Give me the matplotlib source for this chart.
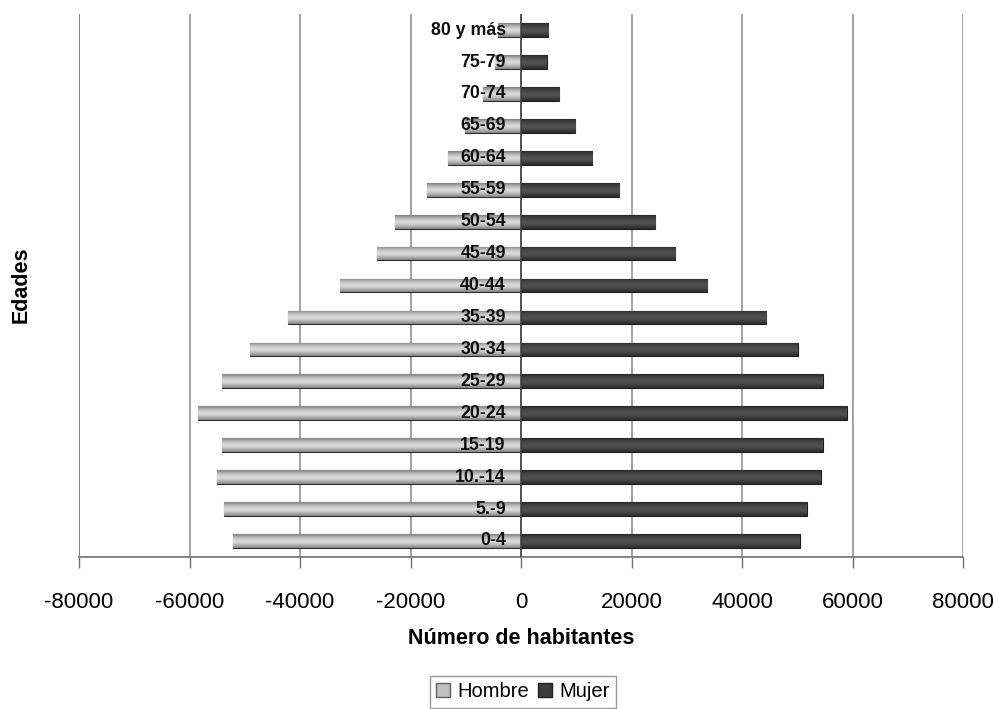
import numpy as np
import matplotlib.pyplot as plt
from matplotlib.patches import Patch

# Datos de la pirámide de población
edades = ["0-4", "5.-9", "10.-14", "15-19", "20-24", "25-29", "30-34", "35-39",
          "40-44", "45-49", "50-54", "55-59", "60-64", "65-69", "70-74",
          "75-79", "80 y más"]
hombre = [-52200, -53800, -55100, -54200, -58400, -54200, -49100, -42200,
          -32800, -26100, -22800, -17000, -13200, -10100, -6900, -4800, -4200]
mujer = [50400, 51700, 54200, 54600, 58900, 54600, 50100, 44400,
         33700, 27900, 24300, 17800, 12900, 9800, 6900, 4700, 4900]

plt.rcParams['font.family'] = ['Liberation Sans', 'DejaVu Sans']
plt.rcParams['axes.unicode_minus'] = False

fig = plt.figure(figsize=(9.96, 7.09), dpi=100)
ax = fig.add_axes([0.0793, 0.2145, 0.8877, 0.7655])

y = np.arange(len(edades))
alto = 0.43

bars_h = ax.barh(y, hombre, height=alto, color="#c4c4c4", edgecolor="#303030",
                 linewidth=0.8, zorder=3)
bars_m = ax.barh(y, mujer, height=alto, color="#3c3c3c", edgecolor="#202020",
                 linewidth=0.8, zorder=3)


# Sombreado tipo cilindro en cada barra
def sombrear(bars, c_borde, c_centro):
    grad = np.abs(np.linspace(-1, 1, 64)) ** 1.5
    c1 = np.array(c_borde)
    c2 = np.array(c_centro)
    img = (grad[:, None] * c1 + (1 - grad[:, None]) * c2)[:, None, :]
    for b in bars:
        x0, y0 = b.get_x(), b.get_y()
        w, h = b.get_width(), b.get_height()
        im = ax.imshow(img, extent=[x0, x0 + w, y0, y0 + h], aspect="auto",
                       zorder=3.5, interpolation="bilinear")
        im.set_clip_path(b)


sombrear(bars_h, (0.50, 0.50, 0.50), (0.86, 0.86, 0.86))
sombrear(bars_m, (0.16, 0.16, 0.16), (0.32, 0.32, 0.32))

ax.set_xlim(-80000, 80000)
ax.set_ylim(-0.5, len(edades) - 0.5)
ax.set_xticks(np.arange(-80000, 80001, 20000))
ax.tick_params(axis="x", direction="out", length=8, width=1, color="#707070",
               labelsize=16, pad=17)

ax.grid(axis="x", color="#8a8a8a", linewidth=1.1, zorder=0)
ax.axvline(0, color="#404040", linewidth=1.1, zorder=4)

for s in ["top", "right", "left"]:
    ax.spines[s].set_visible(False)
ax.spines["bottom"].set_color("#707070")
ax.spines["bottom"].set_linewidth(1.2)
ax.axvline(-80000, color="#707070", linewidth=1.3, zorder=1)

# Etiquetas de edad junto al eje cero
ax.set_yticks([])
for yi, lab in zip(y, edades):
    ax.annotate(lab, xy=(0, yi), xytext=(-11, 0), textcoords="offset points",
                ha="right", va="center", fontsize=12.8, fontweight="bold",
                color="#111111", zorder=6)

ax.set_xlabel("Número de habitantes", fontsize=15.5, fontweight="bold",
              labelpad=11)
fig.text(0.021, 0.598, "Edades", rotation=90, fontsize=15.5, fontweight="bold",
         ha="center", va="center")

handles = [Patch(facecolor="#c0c0c0", edgecolor="#606060"),
           Patch(facecolor="#3c3c3c", edgecolor="#202020")]
fig.legend(handles, ["Hombre", "Mujer"], loc="center", ncol=2,
           bbox_to_anchor=(0.525, 0.024), fontsize=14.5, frameon=True,
           fancybox=False, edgecolor="#808080", handlelength=0.7,
           handleheight=0.7, handletextpad=0.4, columnspacing=0.4,
           borderpad=0.3)

fig.savefig("out.png", dpi=100)
